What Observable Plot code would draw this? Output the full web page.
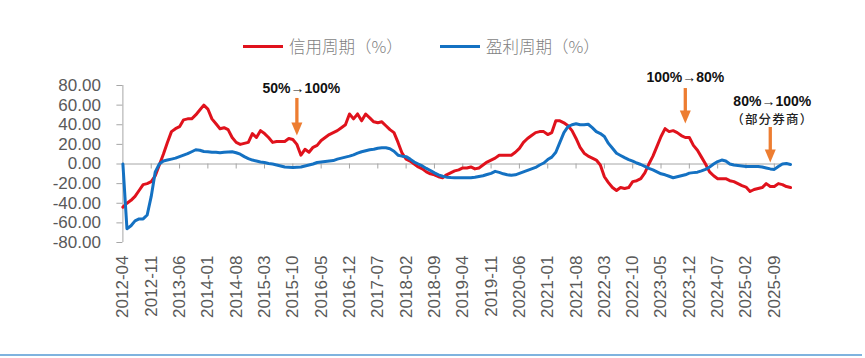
<!DOCTYPE html>
<html><head><meta charset="utf-8">
<script src="https://cdn.jsdelivr.net/npm/d3@7"></script>
<script src="https://cdn.jsdelivr.net/npm/@observablehq/plot@0.6"></script>
<style>
body{margin:0;background:#fff;}
#wrap{position:relative;width:865px;height:358px;overflow:hidden;background:#fff;}
#wrap svg{position:absolute;left:0;top:0;}
.lg-line{position:absolute;height:3px;}
.lg-text{position:absolute;font-family:"Noto Sans CJK SC",sans-serif;font-weight:300;font-size:16.5px;line-height:20px;color:#7f7f7f;white-space:nowrap;}
#bottomline{position:absolute;left:0;top:354px;width:862px;height:2px;background:#7fb3df;}
.note text{letter-spacing:1.2px;}
</style></head>
<body><div id="wrap"></div>
<script>
// ---- data ----
const startMonth = "2012-04";
const seriesNames = ["信用周期（%）", "盈利周期（%）"];
const credit = [
 -44,-40,-37,-33,-27,-21,-20,-18,-12,-1,
 10,22,33,36,38,45,46,46,50,55,
 60,56,46,41,36,37,35,27,22,20,
 21,22,31,27,34,31,27,22,23,23,
 23,26,25,20,9,15,12,17,19,24,
 27,30,32,34,37,40,51,46,51,44,
 51,47,43,42,43,39,35,32,22,11,
 5,3,0,-3,-5,-8,-10,-11,-13,-14,
 -11,-9,-7,-6,-4,-4,-3,-5,-4,-1,
 2,4,6,9,9,9,9,12,16,22,
 26,29,32,33,33,30,32,44,44,42,
 39,34,26,17,11,8,6,4,-1,-13,
 -19,-24,-27,-24,-25,-24,-18,-17,-15,-9,
 0,8,18,28,36,33,34,32,29,27,
 27,19,14,7,0,-8,-12,-15,-15,-15,
 -17,-18,-20,-22,-23.5,-28,-26,-25,-24,-20,
 -23,-23,-20,-21,-23,-24
];
const profit = [
 0,-66,-63,-58,-56,-56,-52,-33,-8,0,
 3,4,5,6,7.5,9,10.5,12.5,14.5,14,
 12.7,12.5,12,12,11.5,12,12.3,12.5,11.5,10,
 7.5,5.5,4,3,2,1.5,0.5,0,-1,-2,
 -3,-3.2,-3.5,-3.2,-3,-2,-1,0,1.5,2,
 2.5,3,3.5,5,6,7,8,9.3,11,12.5,
 13.5,14.5,15,16,16.5,16.5,15.5,13,9,8,
 7.5,5,2,0,-2,-4.5,-6.6,-9,-11,-12.5,
 -13.4,-13.8,-14,-14,-14,-14,-14,-13.5,-12.7,-12,
 -10.7,-9.5,-7.5,-8.5,-10,-11,-11.5,-11,-9.5,-8,
 -6.5,-5,-3.5,-1,1,4.5,7,12,22,32,
 38,40,41,40,40,40.5,37,33,31,28,
 21,16,11,8.7,6.5,4.5,3,1,-0.5,-2.5,
 -4.5,-6,-8,-10,-11,-12.5,-14,-13,-12,-11,
 -9.3,-8.8,-8.3,-7,-5.5,-3,0,2.5,4,3,
 0,-1,-1.5,-2,-2.5,-2.5,-2.5,-2.5,-3,-4,
 -5,-5.5,-2.5,0,0.5,-0.5
];
const tickLabels = ["2012-04","2012-11","2013-06","2014-01","2014-08","2015-03","2015-10","2016-05","2016-12","2017-07","2018-02","2018-09","2019-04","2019-11","2020-06","2021-01","2021-08","2022-03","2022-10","2023-05","2023-12","2024-07","2025-02","2025-09"];
const yTicks = [-80,-60,-40,-20,0,20,40,60,80];
const annoText = ["50%→100%", "100%→80%", "80%→100%"];
const annoMonth = ["2015-11", "2023-11", "2025-08"];
const annoArrowTop = [66.8, 76.9, 37.2];
const annoArrowTip = [29, 41.3, 1.5];
const annoTextY = [76.6, 88.4, 63.3];
const annoNote = "（部分券商）";
const annoNoteY = 45.3;

// ---- build ----
const fmtMonth = d3.utcFormat("%Y-%m");
const parseMonth = d3.utcParse("%Y-%m");
const start = parseMonth(startMonth);
const monthLabel = i => fmtMonth(d3.utcMonth.offset(start, i));
const monthIndex = s => d3.utcMonth.count(start, parseMonth(s));
const n = credit.length;
const creditRows = credit.map((v, i) => ({i, month: monthLabel(i), v}));
const profitRows = profit.map((v, i) => ({i, month: monthLabel(i), v}));
const tickIdx = tickLabels.map(monthIndex);
const annoRows = annoText.map((t, k) => ({t, i: monthIndex(annoMonth[k]), top: annoArrowTop[k], tip: annoArrowTip[k], ty: annoTextY[k]}));
const textDx = [4.5, 0, 2];

const RED = "#E0121C", BLUE = "#1471C2", ORANGE = "#ED7D31", AX = "#a6a6a6";
const downHead = {draw(ctx){ ctx.moveTo(0,0); ctx.lineTo(-5.5,-13); ctx.lineTo(5.5,-13); ctx.closePath(); }};

const chart = Plot.plot({
  width: 865, height: 358,
  marginLeft: 122.4, marginRight: 75, marginTop: 85, marginBottom: 116,
  x: {type: "linear", domain: [0, n - 1]},
  y: {domain: [-80, 80]},
  style: {background: "transparent", fontFamily: "'Liberation Sans', Arial, sans-serif", overflow: "visible"},
  marks: [
    Plot.axisY({ticks: yTicks, tickFormat: d => d.toFixed(2), tickSize: 6, tickPadding: 16, fontSize: 17, fill: "#595959", stroke: AX, label: null}),
    Plot.axisX({ticks: tickIdx, tickFormat: monthLabel, tickRotate: -90, tickSize: 0, tickPadding: 13, fontSize: 17, fill: "#595959", label: null}),
    Plot.ruleX([0], {y1: -80, y2: 80, stroke: AX}),
    Plot.ruleY([0], {stroke: AX}),
    Plot.ruleX(tickIdx, {x: d => d, y1: 0, y2: -5.1, stroke: AX}),
    Plot.line(creditRows, {x: "i", y: "v", stroke: RED, strokeWidth: 3, strokeLinejoin: "round"}),
    Plot.line(profitRows, {x: "i", y: "v", stroke: BLUE, strokeWidth: 3, strokeLinejoin: "round"}),
    Plot.ruleX(annoRows, {x: "i", y1: "top", y2: "tip", stroke: ORANGE, strokeWidth: 3.3, insetBottom: 9}),
    Plot.dot(annoRows, {x: "i", y: "tip", symbol: downHead, fill: ORANGE, stroke: "none", r: 5}),
    ...annoRows.map((row, k) => Plot.text([row], {x: "i", y: "ty", text: "t", dx: textDx[k], fontSize: 14, fontWeight: "bold", fill: "#111"})),
    Plot.text([annoRows[2]], {x: "i", y: () => annoNoteY, text: () => annoNote, dx: 2, fontSize: 12.5, fontWeight: 500, fill: "#222", fontFamily: "'Noto Sans CJK SC', sans-serif", className: "note"})
  ]
});
const wrap = document.getElementById("wrap");
wrap.appendChild(chart);

// legend
const lg = [
  {x: 243, color: RED, tx: 289, text: seriesNames[0]},
  {x: 440, color: BLUE, tx: 486, text: seriesNames[1]}
];
for (const l of lg) {
  const ln = document.createElement("div");
  ln.className = "lg-line"; ln.style.left = l.x + "px"; ln.style.top = "45px"; ln.style.width = "40px"; ln.style.background = l.color;
  wrap.appendChild(ln);
  const tx = document.createElement("div");
  tx.className = "lg-text"; tx.style.left = l.tx + "px"; tx.style.top = "36px"; tx.textContent = l.text;
  wrap.appendChild(tx);
}
const bl = document.createElement("div"); bl.id = "bottomline"; wrap.appendChild(bl);
</script>
</body></html>
